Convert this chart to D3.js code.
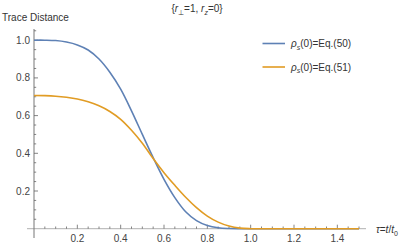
<!DOCTYPE html>
<html>
<head>
<meta charset="utf-8">
<script src="https://cdn.jsdelivr.net/npm/d3@7"></script>
<style>
  body { margin: 0; background: #fff; }
  text { font-family: "Liberation Sans", Arial, sans-serif; }
</style>
</head>
<body>
<div id="chart-area"></div>
<script>
// values
var tau = [0, 0.05, 0.1, 0.15, 0.2, 0.25, 0.3, 0.35, 0.4, 0.45, 0.5, 0.55, 0.6, 0.65, 0.7, 0.75, 0.8, 0.85, 0.9, 0.95, 1.0, 1.1, 1.2, 1.3, 1.4, 1.5];
var eq50 = [1.0, 1.0, 0.998, 0.99, 0.975, 0.948, 0.9, 0.83, 0.74, 0.625, 0.5, 0.377, 0.262, 0.165, 0.09, 0.043, 0.017, 0.005, 0.001, 0, 0, 0, 0, 0, 0, 0];
var eq51 = [0.707, 0.706, 0.703, 0.697, 0.688, 0.673, 0.652, 0.622, 0.58, 0.522, 0.453, 0.372, 0.297, 0.23, 0.167, 0.112, 0.067, 0.035, 0.014, 0.003, 0, 0, 0, 0, 0, 0];
var xTicks = [0.2, 0.4, 0.6, 0.8, 1.0, 1.2, 1.4];
var yTicks = [0.2, 0.4, 0.6, 0.8, 1.0];
var seriesNames = ["50", "51"];
var colors = ["#5e81b5", "#e19c24"];

var svg = d3.select("#chart-area").append("svg")
    .attr("width", 399)
    .attr("height", 243);

var x = d3.scaleLinear().domain([0, 1.5]).range([34, 359]);
var y = d3.scaleLinear().domain([0, 1]).range([228.7, 40.2]);

// axis lines
svg.append("line")
    .attr("x1", 27).attr("x2", 366)
    .attr("y1", y(0)).attr("y2", y(0))
    .attr("stroke", "#b0b0b0").attr("stroke-width", 1);
svg.append("line")
    .attr("x1", x(0)).attr("x2", x(0))
    .attr("y1", 238).attr("y2", 29)
    .attr("stroke", "#777").attr("stroke-width", 1);

// minor ticks
var minor = d3.range(0.05, 1.51, 0.05);
svg.selectAll(".xminor").data(minor).enter().append("line")
    .attr("x1", function(d){ return x(d); }).attr("x2", function(d){ return x(d); })
    .attr("y1", y(0)).attr("y2", function(d){
        return xTicks.some(function(t){ return Math.abs(t - d) < 1e-6; }) ? y(0) - 4 : y(0) - 2.2;
    })
    .attr("stroke", "#666").attr("stroke-width", 0.8);
var yminor = d3.range(0.05, 1.06, 0.05);
svg.selectAll(".yminor").data(yminor).enter().append("line")
    .attr("y1", function(d){ return y(d); }).attr("y2", function(d){ return y(d); })
    .attr("x1", x(0)).attr("x2", function(d){
        return yTicks.some(function(t){ return Math.abs(t - d) < 1e-6; }) ? x(0) + 4 : x(0) + 2.2;
    })
    .attr("stroke", "#666").attr("stroke-width", 0.8);

// tick labels
svg.selectAll(".xlab").data(xTicks).enter().append("text")
    .attr("x", function(d){ return x(d); })
    .attr("y", 241.5)
    .attr("text-anchor", "middle")
    .attr("font-size", 10)
    .attr("fill", "#444")
    .text(function(d){ return d3.format(".1f")(d); });
svg.selectAll(".ylab").data(yTicks).enter().append("text")
    .attr("x", 30)
    .attr("y", function(d){ return y(d) + 3.5; })
    .attr("text-anchor", "end")
    .attr("font-size", 10)
    .attr("fill", "#444")
    .text(function(d){ return d3.format(".1f")(d); });

// curves
var line = d3.line()
    .x(function(d){ return x(d[0]); })
    .y(function(d){ return y(Math.max(0, d[1])); })
    .curve(d3.curveCatmullRom.alpha(0.5));

[eq50, eq51].forEach(function(vals, i){
    svg.append("path")
        .datum(tau.map(function(t, j){ return [t, vals[j]]; }))
        .attr("d", line)
        .attr("fill", "none")
        .attr("stroke", colors[i])
        .attr("stroke-width", 1.6);
});

// axis labels and title
svg.append("text").attr("x", 2).attr("y", 21).attr("font-size", 10).attr("fill", "#333")
    .text("Trace Distance");

var title = svg.append("text").attr("x", 197).attr("y", 12).attr("font-size", 10)
    .attr("fill", "#333").attr("text-anchor", "middle");
title.append("tspan").text("{");
title.append("tspan").attr("font-style", "italic").text("r");
title.append("tspan").attr("font-size", 7).attr("dy", 2.5).text("⊥");
title.append("tspan").attr("dy", -2.5).text("=1, ");
title.append("tspan").attr("font-style", "italic").text("r");
title.append("tspan").attr("font-size", 7).attr("font-style", "italic").attr("dy", 2.5).text("z");
title.append("tspan").attr("dy", -2.5).text("=0}");

var xl = svg.append("text").attr("x", 376).attr("y", 233).attr("font-size", 10).attr("fill", "#333");
xl.append("tspan").attr("font-style", "italic").text("τ");
xl.append("tspan").text("=");
xl.append("tspan").attr("font-style", "italic").text("t");
xl.append("tspan").text("/");
xl.append("tspan").attr("font-style", "italic").text("t");
xl.append("tspan").attr("font-size", 7).attr("dy", 2.5).text("0");

// legend
seriesNames.forEach(function(name, i){
    var ly = 43.5 + i * 23.5;
    svg.append("line")
        .attr("x1", 262.5).attr("x2", 285)
        .attr("y1", ly).attr("y2", ly)
        .attr("stroke", colors[i]).attr("stroke-width", 1.6);
    var t = svg.append("text").attr("x", 291).attr("y", ly + 3.5)
        .attr("font-size", 10).attr("fill", "#333");
    t.append("tspan").attr("font-style", "italic").text("ρ");
    t.append("tspan").attr("font-style", "italic").attr("font-size", 7).attr("dy", 2.5).text("s");
    t.append("tspan").attr("dy", -2.5).text("(0)=Eq.(" + name + ")");
});
</script>
</body>
</html>
